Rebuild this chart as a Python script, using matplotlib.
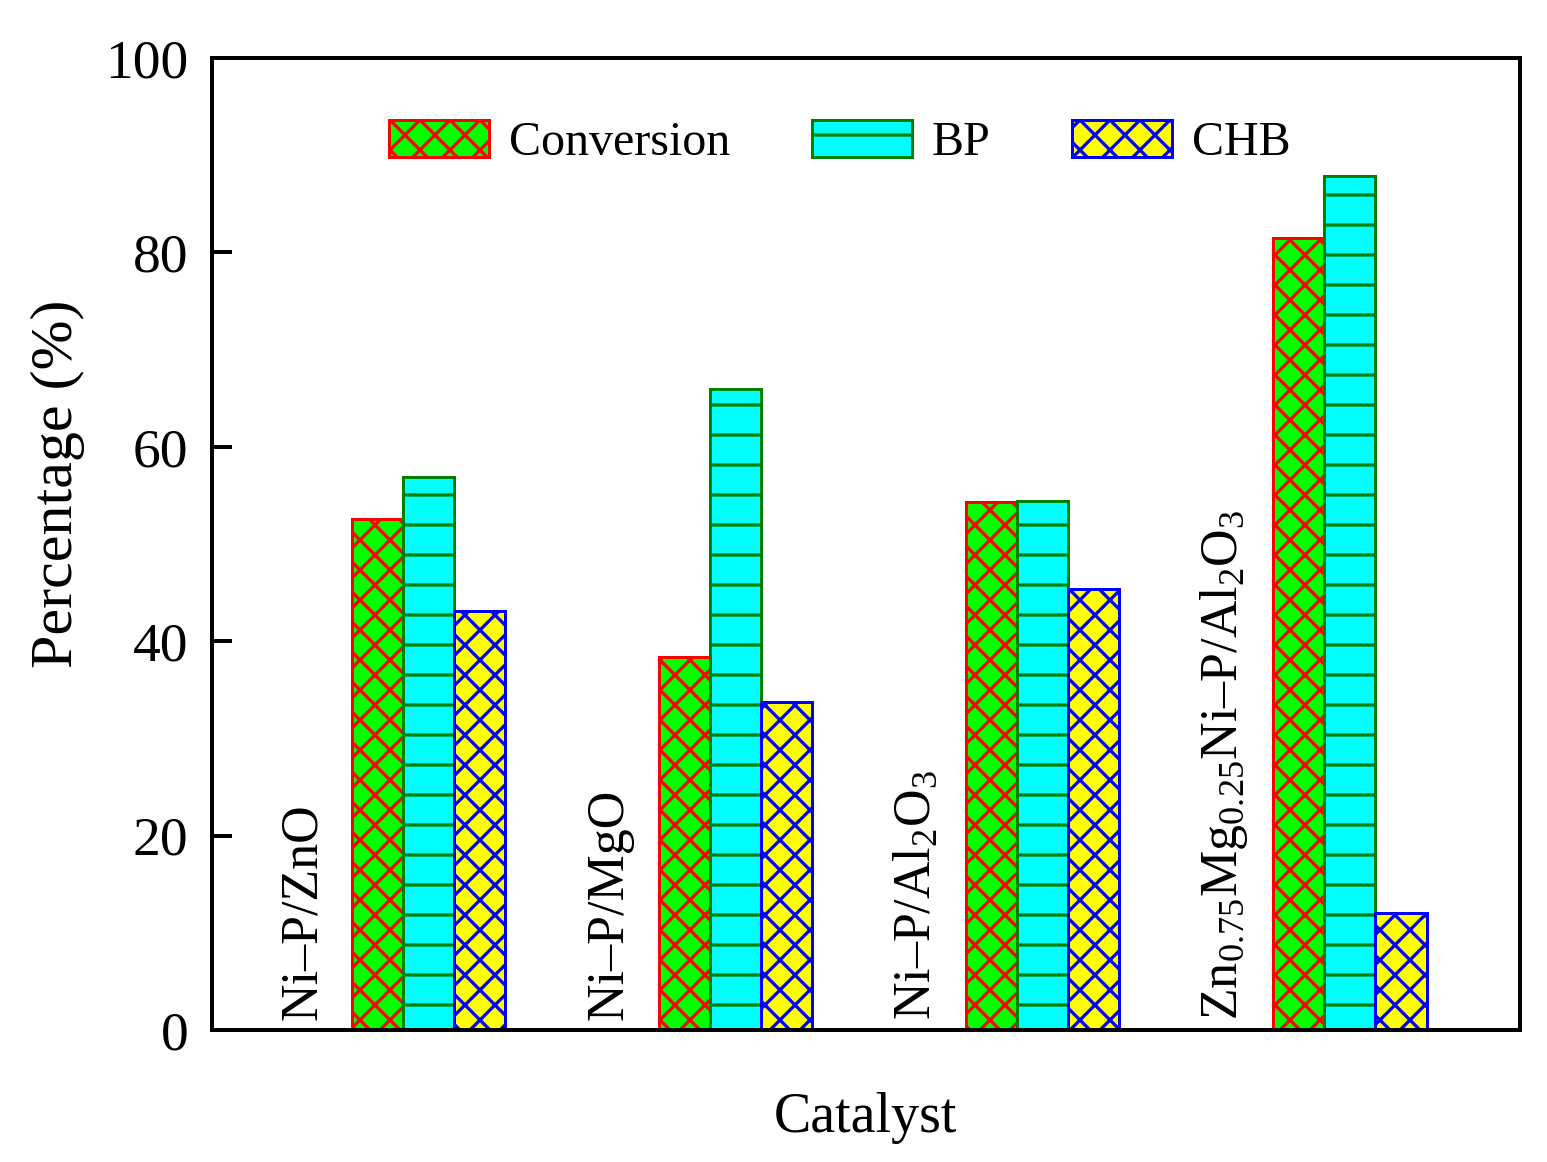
import matplotlib

matplotlib.use("Agg")
import matplotlib.pyplot as plt
import numpy as np

catalysts = [
    "Ni–P/ZnO",
    "Ni–P/MgO",
    r"Ni–P/Al$_2$O$_3$",
    r"Zn$_{0.75}$Mg$_{0.25}$Ni–P/Al$_2$O$_3$",
]
series = ["Conversion", "BP", "CHB"]
conversion = [52.6, 38.4, 54.3, 81.5]
bp = [56.9, 66.0, 54.4, 87.9]
chb = [43.1, 33.7, 45.4, 12.0]

FACE = {"Conversion": "#00ff00", "BP": "#00ffff", "CHB": "#ffff00"}
EDGE = {"Conversion": "#ff0000", "BP": "#008000", "CHB": "#0000ff"}
HATCH = {"Conversion": "xx", "BP": "-", "CHB": "xx"}

plt.rcParams["font.family"] = ["Liberation Serif", "DejaVu Serif"]
plt.rcParams["mathtext.fontset"] = "custom"
plt.rcParams["mathtext.rm"] = "Liberation Serif"
plt.rcParams["mathtext.it"] = "Liberation Serif:italic"
plt.rcParams["hatch.linewidth"] = 1.3

dpi = 180
fig = plt.figure(figsize=(1547 / dpi, 1162 / dpi), dpi=dpi)
ax = fig.add_axes([0.137, 0.1136, 0.8455, 0.8364])

x = np.arange(len(catalysts))
width = 1 / 6
for i, (name, vals) in enumerate(zip(series, [conversion, bp, chb])):
    ax.bar(x + (i - 1) * width, vals, width, label=name,
           facecolor=FACE[name], edgecolor=EDGE[name], hatch=HATCH[name],
           linewidth=1.2)

for xi, lab in zip(x, catalysts):
    ax.text(xi - 0.41, 1.0, lab, rotation=90, ha="center", va="bottom",
            fontsize=20.8)

ax.set_xlim(-0.705, 3.554)
ax.set_ylim(0, 100)
ax.set_yticks([0, 20, 40, 60, 80, 100])
ax.set_xticks([])
ax.tick_params(axis="y", direction="in", length=8, width=1.6, pad=9.5,
               labelsize=22.2)
for s in ax.spines.values():
    s.set_linewidth(1.6)

ax.set_xlabel("Catalyst", fontsize=22.4, labelpad=25)
ax.set_ylabel("Percentage (%)", fontsize=24)
ax.yaxis.set_label_coords(-0.097, 0.562)

ax.legend(loc="center", bbox_to_anchor=(0.48, 0.913), ncol=3, frameon=False,
          fontsize=19.2, handlelength=2.08, handleheight=0.79,
          handletextpad=0.42, columnspacing=1.7)

fig.savefig("out.png", dpi=dpi)
